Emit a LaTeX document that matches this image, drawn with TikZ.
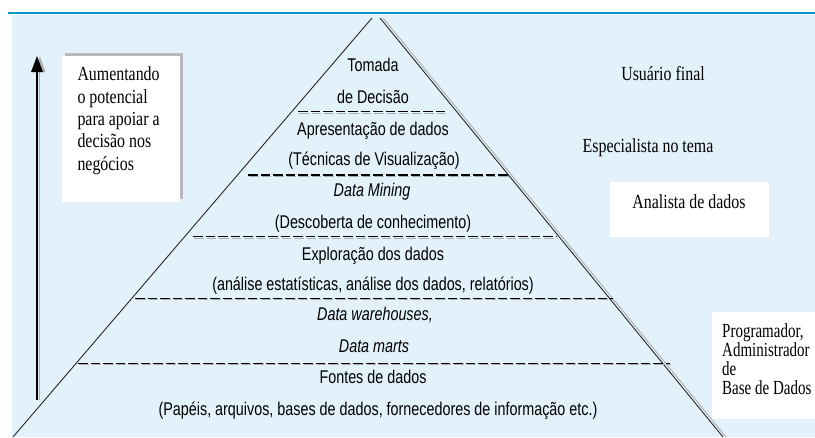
\documentclass[tikz,border=0pt]{standalone}
\usepackage{fontspec}
\newfontfamily\arialc[FakeStretch=0.78]{Liberation Sans}
\newfontfamily\timesc[FakeStretch=0.795]{Liberation Serif}
\newfontfamily\timesn[FakeStretch=0.75]{Liberation Serif}
\definecolor{bgblue}{RGB}{227,241,251}
\definecolor{tealline}{RGB}{0,155,190}
\definecolor{shadowgray}{RGB}{172,172,172}
\tikzset{
  ptxt/.style={font=\arialc\fontsize{18.4}{22}\selectfont, inner sep=0pt, anchor=base, text=black},
  pit/.style={ptxt, font=\arialc\itshape\fontsize{18.4}{22}\selectfont},
  ttxt/.style={font=\timesc\fontsize{20}{22}\selectfont, inner sep=0pt, text=black},
  tntxt/.style={font=\timesn\fontsize{20}{22}\selectfont, inner sep=0pt, text=black, anchor=base west},
  sepline/.style={draw=black, line width=1.1pt, dash pattern=on 9.5pt off 3pt},
  sepshadow/.style={draw=shadowgray, line width=1.1pt, dash pattern=on 9.5pt off 3pt},
  edgeline/.style={draw=black!85, line width=0.9pt},
  edgeshadow/.style={draw=shadowgray, line width=0.9pt},
}
\begin{document}
\begin{tikzpicture}[x=1pt,y=-1pt]
\useasboundingbox (0,0) rectangle (815,437);
\clip (0,0) rectangle (815,437);
% background and top rule
\fill[bgblue] (12,14.5) rectangle (815,437);
\draw[tealline, line width=2.6pt] (8,13) -- (815,13);

% pyramid edges
\coordinate (apexL) at (372,18);
\coordinate (baseL) at (13,437);
\coordinate (apexR) at (380,18);
\coordinate (baseR) at (723,437);
\draw[edgeshadow] ([xshift=3pt]apexR) -- ([xshift=3pt]baseR);
\draw[edgeline] (apexR) -- (baseR);
\draw[edgeline] (apexL) -- (baseL);

% dashed separators
\foreach \yy/\xa/\xb in {111.7/298/445, 175/248/510, 236.7/193/557, 298.3/135/613, 363.3/78/670}{
  \draw[sepshadow] (\xa+1,\yy+1.6) -- (\xb+1,\yy+1.6);
  \draw[sepline] (\xa,\yy) -- (\xb,\yy);
}

% pyramid texts
\node[ptxt] (t1) at (373,71.7) {Tomada};
\node[ptxt] (t2) at (373,103.3) {de Decisão};
\node[ptxt] (t3) at (373,135) {Apresentação de dados};
\node[ptxt] (t4) at (374,165) {(Técnicas de Visualização)};
\node[pit] (t5) at (372,196.7) {Data Mining};
\node[ptxt] (t6) at (373,228.3) {(Descoberta de conhecimento)};
\node[ptxt] (t7) at (373,260) {Exploração dos dados};
\node[ptxt] (t8) at (373,290) {(análise estatísticas, análise dos dados, relatórios)};
\node[pit] (t9) at (375,320.7) {Data warehouses,};
\node[pit] (t10) at (374,352.7) {Data marts};
\node[ptxt] (t11) at (373,383.3) {Fontes de dados};
\node[ptxt] (t12) at (378,415) {(Papéis, arquivos, bases de dados, fornecedores de informação etc.)};

% upward arrow
\coordinate (arrbot) at (37,400);
\coordinate (arrtop) at (37,70);
\draw[shadowgray, line width=1.5pt] ([xshift=2.5pt]arrbot) -- ([xshift=2.5pt]arrtop);
\draw[black, line width=1.4pt] (arrbot) -- (arrtop);
\fill[shadowgray] (34.5,72) -- (45.5,72) -- (40,56.5) -- cycle;
\fill[black] (31,72) -- (43,72) -- (37,56) -- cycle;

% left box
\fill[shadowgray!85] (65,53) rectangle (183,199);
\fill[white] (62,55.5) rectangle (180,202);
\node[ttxt, anchor=base west] (l1) at (77.3,80.7) {Aumentando};
\node[ttxt, anchor=base west] (l2) at (77.3,103.3) {o potencial};
\node[ttxt, anchor=base west] (l3) at (77.3,125.3) {para apoiar a};
\node[ttxt, anchor=base west] (l4) at (77.3,147.6) {decisão nos};
\node[ttxt, anchor=base west] (l5) at (77.3,170) {negócios};

% right labels
\node[ttxt, anchor=base] (r1) at (663,80.7) {Usuário final};
\node[ttxt, anchor=base] (r2) at (648,152.7) {Especialista no tema};
\fill[white] (610,182) rectangle (769,237);
\node[ttxt, anchor=base] (r3) at (689,208.3) {Analista de dados};
\fill[white] (712,312) rectangle (815,419);
\node[tntxt] (r4) at (722,337.3) {Programador,};
\node[tntxt] (r5) at (722,356.5) {Administrador};
\node[tntxt] (r6) at (722,375.5) {de};
\node[tntxt] (r7) at (722,394.5) {Base de Dados};
\end{tikzpicture}
\end{document}
